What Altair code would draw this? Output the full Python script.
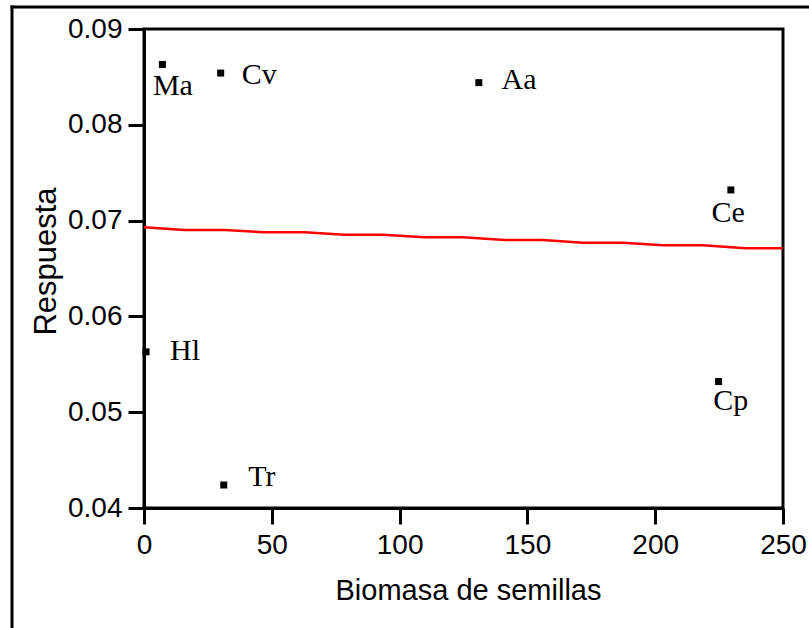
import altair as alt
import pandas as pd

# ---- data ----
species = ["Ma", "Cv", "Aa", "Ce", "Hl", "Cp", "Tr"]
biomass = [7.2, 30.0, 131.0, 229.6, 0.8, 224.8, 31.2]
response = [0.0863, 0.0854, 0.0844, 0.0732, 0.0563, 0.0532, 0.0424]

fit_x = [0, 15.8, 31.5, 47.2, 62.8, 78.5, 93.3, 109.8, 124.7, 141.2, 156.0,
         171.7, 187.3, 203.0, 218.7, 235.2, 250]
fit_y = [0.06930, 0.06902, 0.06902, 0.06878, 0.06878, 0.06853, 0.06853,
         0.06826, 0.06826, 0.06797, 0.06797, 0.06769, 0.06769, 0.06742,
         0.06742, 0.06711, 0.06711]

x_ticks = [0, 50, 100, 150, 200, 250]
y_ticks = [0.04, 0.05, 0.06, 0.07, 0.08, 0.09]

# label offsets (pixels, left edge / baseline relative to the point)
label_offsets = {
    "Ma": (-9.5, 30.5),
    "Cv": (21, 10.6),
    "Aa": (22.7, 6.6),
    "Ce": (-19.3, 32),
    "Hl": (24, 8),
    "Cp": (-5.4, 28.7),
    "Tr": (24.6, 1.4),
}

pts = pd.DataFrame({"sp": species, "x": biomass, "y": response})
fit = pd.DataFrame({"x": fit_x, "y": fit_y})

xscale = alt.Scale(domain=[0, 250], nice=False, zero=False)
yscale = alt.Scale(domain=[0.04, 0.09], nice=False, zero=False)

xaxis = alt.Axis(values=x_ticks, title="Biomasa de semillas", titleFontSize=29,
                 titleBaseline="alphabetic", titleY=91, titleX=324,
                 labelPadding=7, labelFlush=False, labelOverlap=False)
yaxis = alt.Axis(values=y_ticks, format=".2f", title="Respuesta", titleFontSize=31,
                 titleAngle=270, titleBaseline="alphabetic", titleX=-89, titleY=232,
                 titleAlign="center", labelPadding=6, labelFlush=False,
                 labelOverlap=False)

line = alt.Chart(fit).mark_line(color="#ff0000", strokeWidth=2.5).encode(
    x=alt.X("x:Q", scale=xscale, axis=xaxis),
    y=alt.Y("y:Q", scale=yscale, axis=yaxis),
)

points = alt.Chart(pts).mark_square(size=49, color="black", filled=True, opacity=1).encode(
    x=alt.X("x:Q", scale=xscale),
    y=alt.Y("y:Q", scale=yscale),
)

labels = []
for name, (ddx, ddy) in label_offsets.items():
    labels.append(
        alt.Chart(pts).transform_filter(alt.datum.sp == name).mark_text(
            align="left", baseline="alphabetic", dx=ddx, dy=ddy,
            font="Liberation Serif", fontSize=30, color="black",
        ).encode(
            x=alt.X("x:Q", scale=xscale),
            y=alt.Y("y:Q", scale=yscale),
            text="sp:N",
        )
    )

dummy = pd.DataFrame({"a": [0]})
frame_top = alt.Chart(dummy).mark_rule(color="black", strokeWidth=3).encode(
    x=alt.value(-133.5), x2=alt.value(700), y=alt.value(-22)
)
frame_left = alt.Chart(dummy).mark_rule(color="black", strokeWidth=3).encode(
    x=alt.value(-132), y=alt.value(-23.5), y2=alt.value(620)
)

chart = alt.layer(frame_top, frame_left, line, points, *labels).properties(
    width=639, height=479,
    autosize=alt.AutoSizeParams(type="none"),
    padding={"left": 144, "top": 29, "right": 26, "bottom": 120},
    background="white",
).configure_view(
    stroke="black", strokeWidth=3
).configure_axis(
    grid=False,
    domainColor="black", domainWidth=3,
    tickColor="black", tickWidth=3, tickSize=16,
    labelFont="Liberation Sans", labelFontSize=28, labelColor="black",
    titleFont="Liberation Sans", titleColor="black", titleFontWeight="normal",
)

chart.save("out.html", embed_options={"renderer": "svg", "actions": False})
